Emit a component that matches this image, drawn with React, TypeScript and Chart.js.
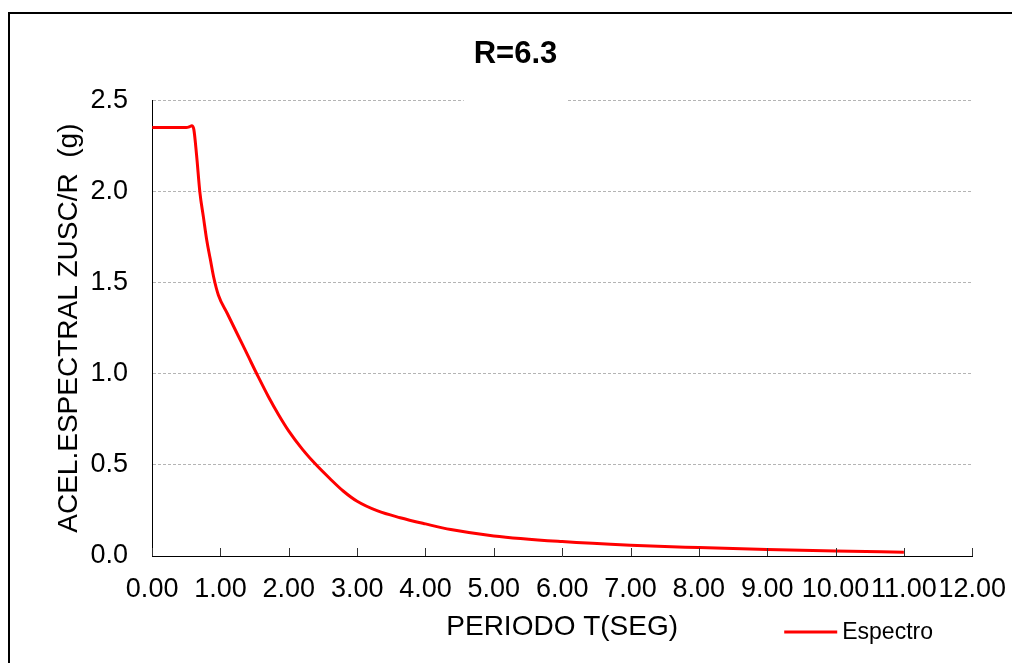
import { useEffect, useRef } from "react";
import { Chart, registerables } from "chart.js";

Chart.register(...registerables);

const chartTitle = "R=6.3";
const xTitle = "PERIODO T(SEG)";
const yTitle = "ACEL.ESPECTRAL ZUSC/R  (g)";
const seriesName = "Espectro";

const periods = [
  0, 0.1, 0.2, 0.3, 0.4, 0.5, 0.55, 0.58, 0.61, 0.65, 0.7, 0.75, 0.8, 0.85, 0.9,
  0.97, 1.1, 1.25, 1.4, 1.55, 1.7, 1.85, 2.0, 2.2, 2.4, 2.6, 2.8, 3.0, 3.3, 3.63,
  4.0, 4.37, 5.0, 6.0, 7.0, 8.0, 9.0, 10.0, 11.0,
];
const spectrum = [
  2.35, 2.35, 2.35, 2.35, 2.35, 2.35, 2.355, 2.36, 2.34, 2.2, 1.99, 1.86, 1.73,
  1.63, 1.53, 1.43, 1.33, 1.215, 1.1, 0.985, 0.875, 0.775, 0.685, 0.585, 0.5,
  0.425, 0.355, 0.3, 0.247, 0.21, 0.176, 0.145, 0.11, 0.079, 0.059, 0.046, 0.035,
  0.027, 0.021,
];
const xTicks = [0, 1, 2, 3, 4, 5, 6, 7, 8, 9, 10, 11, 12];
const yTicks = [0, 0.5, 1.0, 1.5, 2.0, 2.5];

const FONT = "'Liberation Sans', Arial, sans-serif";
const RED = "#ff0000";

const innerTicksPlugin = {
  id: "innerTicks",
  afterDatasetsDraw(chart: any) {
    const { ctx, chartArea, scales } = chart;
    const xs = scales.x;
    ctx.save();
    ctx.strokeStyle = "#333";
    ctx.lineWidth = 1;
    for (const t of xs.ticks) {
      const px = Math.round(xs.getPixelForValue(t.value)) + 0.5;
      ctx.beginPath();
      ctx.moveTo(px, chartArea.bottom - 8);
      ctx.lineTo(px, chartArea.bottom);
      ctx.stroke();
    }
    ctx.restore();
  },
};

const gridGapPlugin = {
  id: "gridGap",
  beforeDatasetsDraw(chart: any) {
    const { ctx, scales } = chart;
    const x1 = scales.x.getPixelForValue(4.56);
    const x2 = scales.x.getPixelForValue(6.07);
    const y = scales.y.getPixelForValue(2.5);
    ctx.save();
    ctx.fillStyle = "#fff";
    ctx.fillRect(x1, y - 2, x2 - x1, 4);
    ctx.restore();
  },
};

const sideLegendPlugin = {
  id: "sideLegend",
  afterDraw(chart: any) {
    const { ctx, chartArea } = chart;
    const ds = chart.data.datasets[0];
    const x0 = chartArea.right - 188;
    const y0 = chartArea.bottom + 76;
    ctx.save();
    ctx.strokeStyle = ds.borderColor;
    ctx.lineWidth = 3;
    ctx.beginPath();
    ctx.moveTo(x0, y0);
    ctx.lineTo(x0 + 53, y0);
    ctx.stroke();
    ctx.fillStyle = "#000";
    ctx.font = `23px ${FONT}`;
    ctx.textBaseline = "middle";
    ctx.textAlign = "left";
    ctx.fillText(ds.label, x0 + 58, y0 + 1);
    ctx.restore();
  },
};

export default function App() {
  const ref = useRef<HTMLCanvasElement | null>(null);

  useEffect(() => {
    if (!ref.current) return;
    const chart = new Chart(ref.current, {
      type: "line",
      data: {
        datasets: [
          {
            label: seriesName,
            data: periods.map((t, i) => ({ x: t, y: spectrum[i] })),
            borderColor: RED,
            backgroundColor: RED,
            borderWidth: 3,
            pointRadius: 0,
            cubicInterpolationMode: "monotone",
            fill: false,
          },
        ],
      },
      options: {
        animation: false,
        responsive: false,
        maintainAspectRatio: false,
        layout: { padding: { left: 52, right: 44, top: 36, bottom: 19 } },
        plugins: {
          legend: { display: false },
          tooltip: { enabled: false },
          title: {
            display: true,
            text: chartTitle,
            color: "#000",
            font: { family: FONT, size: 31, weight: "bold" },
            padding: { top: 0, bottom: 27 },
          },
        },
        scales: {
          x: {
            type: "linear",
            min: 0,
            max: 12,
            afterBuildTicks: (s: any) => {
              s.ticks = xTicks.map((v) => ({ value: v }));
            },
            ticks: {
              autoSkip: false,
              maxRotation: 0,
              minRotation: 0,
              padding: 17,
              color: "#000",
              font: { family: FONT, size: 27 },
              callback: (v: any) => Number(v).toFixed(2),
            },
            grid: { display: false, drawTicks: false },
            border: { display: true, color: "#000", width: 1 },
            title: {
              display: true,
              text: xTitle,
              color: "#000",
              font: { family: FONT, size: 28 },
              padding: { top: -12, bottom: 0 },
            },
          },
          y: {
            type: "linear",
            min: 0,
            max: 2.5,
            afterBuildTicks: (s: any) => {
              s.ticks = yTicks.map((v) => ({ value: v }));
            },
            ticks: {
              padding: 24,
              color: "#000",
              font: { family: FONT, size: 27 },
              callback: (v: any) => Number(v).toFixed(1),
            },
            grid: { color: "#b4b4b4", lineWidth: 1, drawTicks: false },
            border: { display: true, color: "#000", width: 1, dash: [3, 2] },
            title: {
              display: true,
              text: yTitle,
              color: "#000",
              font: { family: FONT, size: 28 },
              padding: { top: 0, bottom: -19 },
            },
          },
        },
      },
      plugins: [gridGapPlugin, innerTicksPlugin, sideLegendPlugin],
    } as any);
    return () => chart.destroy();
  }, []);

  return (
    <div
      style={{
        position: "absolute",
        left: 0,
        top: 0,
        width: 1012,
        height: 663,
        background: "#fff",
        overflow: "hidden",
      }}
    >
      <div
        style={{
          position: "absolute",
          left: 8,
          top: 12,
          right: 0,
          bottom: 0,
          borderLeft: "2px solid #000",
          borderTop: "2px solid #000",
        }}
      />
      <canvas
        ref={ref}
        width={1023}
        height={663}
        style={{ position: "absolute", left: 0, top: 0, width: 1023, height: 663 }}
      />
    </div>
  );
}
